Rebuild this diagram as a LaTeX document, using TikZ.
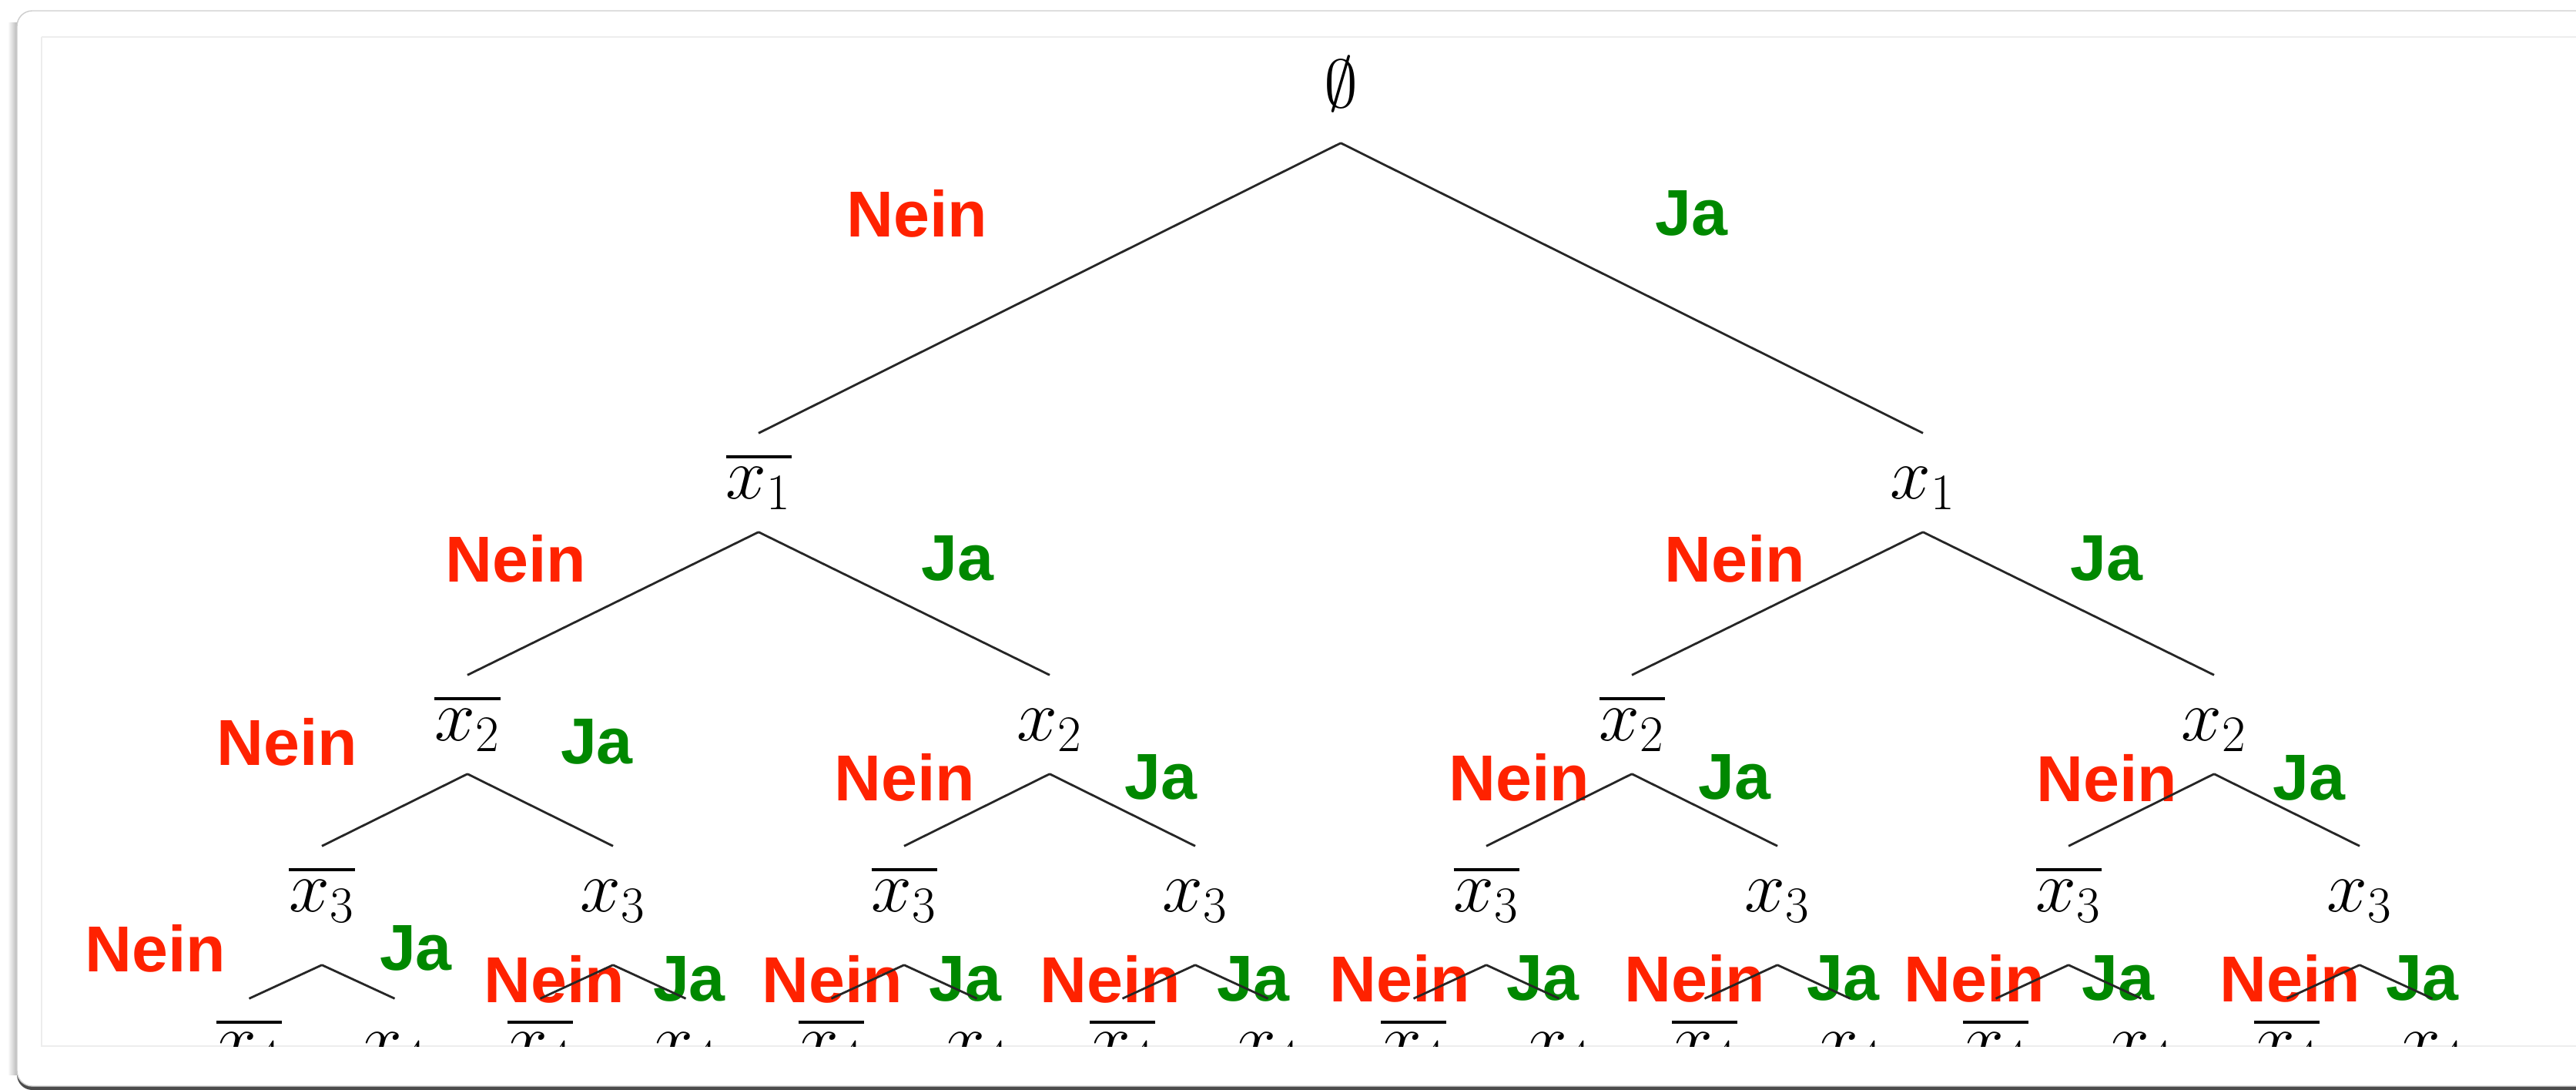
\documentclass[tikz,border=0pt]{standalone}
\usepackage{fix-cm}
\usepackage{fontspec}
\usepackage{amsmath, amssymb}
\usetikzlibrary{positioning, calc}
\newfontfamily\etikett{Liberation Sans}
\definecolor{neinrot}{RGB}{255, 34, 0}
\definecolor{jagruen}{RGB}{0, 136, 0}
\definecolor{rahmen}{RGB}{205, 205, 205}

\tikzset{
  knoten/.style={anchor=base, inner xsep=2pt, inner ysep=0pt, text height=0.84cm, text depth=0.43cm, font=\fontsize{27}{32}\selectfont},
  tief/.style={text depth=0.69cm},
  nein/.style={text=neinrot, inner sep=0pt, font=\etikett\bfseries\fontsize{24}{28}\selectfont},
  ja/.style={text=jagruen, inner sep=0pt, font=\etikett\bfseries\fontsize{24}{28}\selectfont},
  kante/.style={line width=0.8pt, black!85}
}

\begin{document}
\begin{tikzpicture}
  \useasboundingbox (0,0) rectangle (33.45,-14.15);
  % fenster
  \fill[white] (0,0) rectangle (33.45,-14.15);
  \shade[left color=white, right color=black!30] (0.10,-0.30) rectangle (0.23,-13.95);
  \fill[black!70, rounded corners=0.2cm] (0.22,-0.18) rectangle (34,-14.15);
  \fill[white, draw=rahmen, rounded corners=0.2cm] (0.22,-0.14) rectangle (34,-14.10);
  \draw[black!7] (0.54,-0.48) -- (33.45,-0.48);
  \draw[black!7] (33.45,-13.58) -- (0.54,-13.58) -- (0.54,-0.48);

  \begin{scope}
    \clip (0.54,-0.48) rectangle (33.45,-13.58);

    % knoten
    \node[knoten, text depth=0.45cm, font=\fontsize{25}{30}\selectfont] (w) at (17.41,-1.40) {$\emptyset$};

    \node[knoten] (n) at (9.85,-6.47) {$\overline{x_1}$};
    \node[knoten] (j) at (24.97,-6.47) {$x_1$};

    \node[knoten] (nn) at (6.07,-9.61) {$\overline{x_2}$};
    \node[knoten] (nj) at (13.63,-9.61) {$x_2$};
    \node[knoten] (jn) at (21.19,-9.61) {$\overline{x_2}$};
    \node[knoten] (jj) at (28.75,-9.61) {$x_2$};

    \node[knoten, tief] (nnn) at (4.18,-11.83) {$\overline{x_3}$};
    \node[knoten, tief] (nnj) at (7.96,-11.83) {$x_3$};
    \node[knoten, tief] (njn) at (11.74,-11.83) {$\overline{x_3}$};
    \node[knoten, tief] (njj) at (15.52,-11.83) {$x_3$};
    \node[knoten, tief] (jnn) at (19.30,-11.83) {$\overline{x_3}$};
    \node[knoten, tief] (jnj) at (23.08,-11.83) {$x_3$};
    \node[knoten, tief] (jjn) at (26.86,-11.83) {$\overline{x_3}$};
    \node[knoten, tief] (jjj) at (30.64,-11.83) {$x_3$};

    \node[knoten] (nnnn) at (3.235,-13.81) {$\overline{x_4}$};
    \node[knoten] (nnnj) at (5.125,-13.81) {$x_4$};
    \node[knoten] (nnjn) at (7.015,-13.81) {$\overline{x_4}$};
    \node[knoten] (nnjj) at (8.905,-13.81) {$x_4$};
    \node[knoten] (njnn) at (10.795,-13.81) {$\overline{x_4}$};
    \node[knoten] (njnj) at (12.685,-13.81) {$x_4$};
    \node[knoten] (njjn) at (14.575,-13.81) {$\overline{x_4}$};
    \node[knoten] (njjj) at (16.465,-13.81) {$x_4$};
    \node[knoten] (jnnn) at (18.355,-13.81) {$\overline{x_4}$};
    \node[knoten] (jnnj) at (20.245,-13.81) {$x_4$};
    \node[knoten] (jnjn) at (22.135,-13.81) {$\overline{x_4}$};
    \node[knoten] (jnjj) at (24.025,-13.81) {$x_4$};
    \node[knoten] (jjnn) at (25.915,-13.81) {$\overline{x_4}$};
    \node[knoten] (jjnj) at (27.805,-13.81) {$x_4$};
    \node[knoten] (jjjn) at (29.695,-13.81) {$\overline{x_4}$};
    \node[knoten] (jjjj) at (31.585,-13.81) {$x_4$};

    % beschriftungen
    \node[nein] (ln) at (11.91,-2.77) {Nein};
    \node[ja] (lj) at (21.96,-2.77) {Ja};

    \node[nein] (lnn) at (6.70,-7.25) {Nein};
    \node[ja] (lnj) at (12.43,-7.25) {Ja};
    \node[nein] (ljn) at (22.53,-7.25) {Nein};
    \node[ja] (ljj) at (27.35,-7.25) {Ja};

    \node[nein] (lnnn) at (3.73,-9.63) {Nein};
    \node[ja] (lnnj) at (7.75,-9.63) {Ja};
    \node[nein] (lnjn) at (11.75,-10.09) {Nein};
    \node[ja] (lnjj) at (15.07,-10.09) {Ja};
    \node[nein] (ljnn) at (19.73,-10.09) {Nein};
    \node[ja] (ljnj) at (22.52,-10.09) {Ja};
    \node[nein] (ljjn) at (27.36,-10.10) {Nein};
    \node[ja] (ljjj) at (29.98,-10.10) {Ja};

    \node[nein] (lnnnn) at (2.02,-12.31) {Nein};
    \node[ja] (lnnnj) at (5.40,-12.31) {Ja};
    \node[nein] (lnnjn) at (7.20,-12.71) {Nein};
    \node[ja] (lnnjj) at (8.95,-12.71) {Ja};
    \node[nein] (lnjnn) at (10.81,-12.71) {Nein};
    \node[ja] (lnjnj) at (12.53,-12.71) {Ja};
    \node[nein] (lnjjn) at (14.42,-12.71) {Nein};
    \node[ja] (lnjjj) at (16.27,-12.71) {Ja};
    \node[nein] (ljnnn) at (18.18,-12.70) {Nein};
    \node[ja] (ljnnj) at (20.03,-12.70) {Ja};
    \node[nein] (ljnjn) at (22.01,-12.70) {Nein};
    \node[ja] (ljnjj) at (23.93,-12.70) {Ja};
    \node[nein] (ljjnn) at (25.64,-12.70) {Nein};
    \node[ja] (ljjnj) at (27.50,-12.70) {Ja};
    \node[nein] (ljjjn) at (29.74,-12.70) {Nein};
    \node[ja] (ljjjj) at (31.45,-12.70) {Ja};

    % kanten
    \draw[kante] (w.south) -- (n.north);
    \draw[kante] (w.south) -- (j.north);

    \draw[kante] (n.south) -- (nn.north);
    \draw[kante] (n.south) -- (nj.north);
    \draw[kante] (j.south) -- (jn.north);
    \draw[kante] (j.south) -- (jj.north);

    \draw[kante] (nn.south) -- (nnn.north);
    \draw[kante] (nn.south) -- (nnj.north);
    \draw[kante] (nj.south) -- (njn.north);
    \draw[kante] (nj.south) -- (njj.north);
    \draw[kante] (jn.south) -- (jnn.north);
    \draw[kante] (jn.south) -- (jnj.north);
    \draw[kante] (jj.south) -- (jjn.north);
    \draw[kante] (jj.south) -- (jjj.north);

    \draw[kante] (nnn.south) -- (nnnn.north);
    \draw[kante] (nnn.south) -- (nnnj.north);
    \draw[kante] (nnj.south) -- (nnjn.north);
    \draw[kante] (nnj.south) -- (nnjj.north);
    \draw[kante] (njn.south) -- (njnn.north);
    \draw[kante] (njn.south) -- (njnj.north);
    \draw[kante] (njj.south) -- (njjn.north);
    \draw[kante] (njj.south) -- (njjj.north);
    \draw[kante] (jnn.south) -- (jnnn.north);
    \draw[kante] (jnn.south) -- (jnnj.north);
    \draw[kante] (jnj.south) -- (jnjn.north);
    \draw[kante] (jnj.south) -- (jnjj.north);
    \draw[kante] (jjn.south) -- (jjnn.north);
    \draw[kante] (jjn.south) -- (jjnj.north);
    \draw[kante] (jjj.south) -- (jjjn.north);
    \draw[kante] (jjj.south) -- (jjjj.north);
  \end{scope}
\end{tikzpicture}
\end{document}
